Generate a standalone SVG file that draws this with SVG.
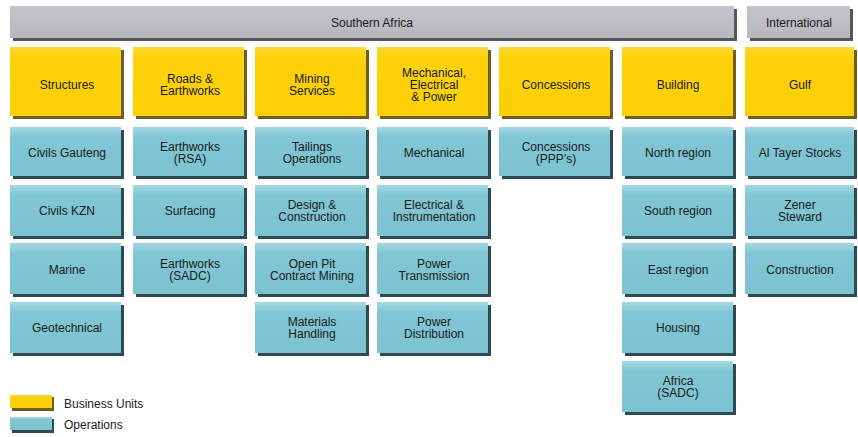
<svg xmlns="http://www.w3.org/2000/svg" width="858" height="437" viewBox="0 0 858 437">
<defs>
<linearGradient id="gy" x1="0" y1="0" x2="0" y2="1"><stop offset="0" stop-color="#fdd83a"/><stop offset="0.15" stop-color="#fdd20a"/><stop offset="1" stop-color="#fccf06"/></linearGradient>
<linearGradient id="gb" x1="0" y1="0" x2="0" y2="1"><stop offset="0" stop-color="#a4d8e2"/><stop offset="0.2" stop-color="#80c6d4"/><stop offset="1" stop-color="#7cc2d0"/></linearGradient>
<linearGradient id="gg" x1="0" y1="0" x2="0" y2="1"><stop offset="0" stop-color="#c4c4ca"/><stop offset="1" stop-color="#b6b6bc"/></linearGradient>
</defs>
<style>
.t{font-family:"Liberation Sans",Arial,sans-serif;font-size:12px;fill:#1a1a1a;text-anchor:middle}
.l{font-family:"Liberation Sans",Arial,sans-serif;font-size:12px;fill:#1a1a1a}
.ys{fill:#6e5e22}.y{fill:url(#gy)}
.bs{fill:#2e4b55}.b{fill:url(#gb)}
.gs{fill:#56565c}.g{fill:url(#gg)}
</style>
<rect width="858" height="437" fill="#ffffff"/>
<g id="southern-africa"><rect class="gs" x="13" y="9" width="724" height="32"/><rect class="g" x="10" y="6" width="724" height="32"/><text class="t" x="372" y="27">Southern Africa</text></g>
<g id="international"><rect class="gs" x="750" y="9" width="103" height="32"/><rect class="g" x="747" y="6" width="103" height="32"/><text class="t" x="799" y="27">International</text></g>

<g id="structures"><rect class="ys" x="13" y="50" width="111" height="69"/><rect class="y" x="10" y="47" width="111" height="69"/><text class="t" x="67" y="89">Structures</text></g>
<g id="roads"><rect class="ys" x="136" y="50" width="111" height="69"/><rect class="y" x="133" y="47" width="111" height="69"/><text class="t" x="190" y="83">Roads &amp;</text><text class="t" x="190" y="95">Earthworks</text></g>
<g id="mining"><rect class="ys" x="258" y="50" width="111" height="69"/><rect class="y" x="255" y="47" width="111" height="69"/><text class="t" x="312" y="83">Mining</text><text class="t" x="312" y="95">Services</text></g>
<g id="mep"><rect class="ys" x="380" y="50" width="111" height="69"/><rect class="y" x="377" y="47" width="111" height="69"/><text class="t" x="434" y="77">Mechanical,</text><text class="t" x="434" y="89">Electrical</text><text class="t" x="434" y="101">&amp; Power</text></g>
<g id="concessions"><rect class="ys" x="502" y="50" width="111" height="69"/><rect class="y" x="499" y="47" width="111" height="69"/><text class="t" x="556" y="89">Concessions</text></g>
<g id="building"><rect class="ys" x="625" y="50" width="111" height="69"/><rect class="y" x="622" y="47" width="111" height="69"/><text class="t" x="678" y="89">Building</text></g>
<g id="gulf"><rect class="ys" x="748" y="50" width="109" height="69"/><rect class="y" x="745" y="47" width="109" height="69"/><text class="t" x="800" y="89">Gulf</text></g>

<g id="civils-gauteng"><rect class="bs" x="13" y="130" width="111" height="49"/><rect class="b" x="10" y="127" width="111" height="49"/><text class="t" x="67" y="157">Civils Gauteng</text></g>
<g id="civils-kzn"><rect class="bs" x="13" y="188" width="111" height="51"/><rect class="b" x="10" y="185" width="111" height="51"/><text class="t" x="67" y="215">Civils KZN</text></g>
<g id="marine"><rect class="bs" x="13" y="246" width="111" height="51"/><rect class="b" x="10" y="243" width="111" height="51"/><text class="t" x="67" y="274">Marine</text></g>
<g id="geotechnical"><rect class="bs" x="13" y="305" width="111" height="51"/><rect class="b" x="10" y="302" width="111" height="51"/><text class="t" x="67" y="332">Geotechnical</text></g>

<g id="earthworks-rsa"><rect class="bs" x="136" y="130" width="111" height="49"/><rect class="b" x="133" y="127" width="111" height="49"/><text class="t" x="190" y="151">Earthworks</text><text class="t" x="190" y="163">(RSA)</text></g>
<g id="surfacing"><rect class="bs" x="136" y="188" width="111" height="51"/><rect class="b" x="133" y="185" width="111" height="51"/><text class="t" x="190" y="215">Surfacing</text></g>
<g id="earthworks-sadc"><rect class="bs" x="136" y="246" width="111" height="51"/><rect class="b" x="133" y="243" width="111" height="51"/><text class="t" x="190" y="268">Earthworks</text><text class="t" x="190" y="280">(SADC)</text></g>

<g id="tailings"><rect class="bs" x="258" y="130" width="111" height="49"/><rect class="b" x="255" y="127" width="111" height="49"/><text class="t" x="312" y="151">Tailings</text><text class="t" x="312" y="163">Operations</text></g>
<g id="design"><rect class="bs" x="258" y="188" width="111" height="51"/><rect class="b" x="255" y="185" width="111" height="51"/><text class="t" x="312" y="209">Design &amp;</text><text class="t" x="312" y="221">Construction</text></g>
<g id="open-pit"><rect class="bs" x="258" y="246" width="111" height="51"/><rect class="b" x="255" y="243" width="111" height="51"/><text class="t" x="312" y="268">Open Pit</text><text class="t" x="312" y="280">Contract Mining</text></g>
<g id="materials"><rect class="bs" x="258" y="305" width="111" height="51"/><rect class="b" x="255" y="302" width="111" height="51"/><text class="t" x="312" y="326">Materials</text><text class="t" x="312" y="338">Handling</text></g>

<g id="mechanical"><rect class="bs" x="380" y="130" width="111" height="49"/><rect class="b" x="377" y="127" width="111" height="49"/><text class="t" x="434" y="157">Mechanical</text></g>
<g id="electrical"><rect class="bs" x="380" y="188" width="111" height="51"/><rect class="b" x="377" y="185" width="111" height="51"/><text class="t" x="434" y="209">Electrical &amp;</text><text class="t" x="434" y="221">Instrumentation</text></g>
<g id="power-transmission"><rect class="bs" x="380" y="246" width="111" height="51"/><rect class="b" x="377" y="243" width="111" height="51"/><text class="t" x="434" y="268">Power</text><text class="t" x="434" y="280">Transmission</text></g>
<g id="power-distribution"><rect class="bs" x="380" y="305" width="111" height="51"/><rect class="b" x="377" y="302" width="111" height="51"/><text class="t" x="434" y="326">Power</text><text class="t" x="434" y="338">Distribution</text></g>

<g id="concessions-ppp"><rect class="bs" x="502" y="130" width="111" height="49"/><rect class="b" x="499" y="127" width="111" height="49"/><text class="t" x="556" y="151">Concessions</text><text class="t" x="556" y="163">(PPP’s)</text></g>

<g id="north"><rect class="bs" x="625" y="130" width="111" height="49"/><rect class="b" x="622" y="127" width="111" height="49"/><text class="t" x="678" y="157">North region</text></g>
<g id="south"><rect class="bs" x="625" y="188" width="111" height="51"/><rect class="b" x="622" y="185" width="111" height="51"/><text class="t" x="678" y="215">South region</text></g>
<g id="east"><rect class="bs" x="625" y="246" width="111" height="51"/><rect class="b" x="622" y="243" width="111" height="51"/><text class="t" x="678" y="274">East region</text></g>
<g id="housing"><rect class="bs" x="625" y="305" width="111" height="51"/><rect class="b" x="622" y="302" width="111" height="51"/><text class="t" x="678" y="332">Housing</text></g>
<g id="africa"><rect class="bs" x="625" y="364" width="111" height="51"/><rect class="b" x="622" y="361" width="111" height="51"/><text class="t" x="678" y="385">Africa</text><text class="t" x="678" y="397">(SADC)</text></g>

<g id="al-tayer"><rect class="bs" x="748" y="130" width="109" height="49"/><rect class="b" x="745" y="127" width="109" height="49"/><text class="t" x="800" y="157">Al Tayer Stocks</text></g>
<g id="zener"><rect class="bs" x="748" y="188" width="109" height="51"/><rect class="b" x="745" y="185" width="109" height="51"/><text class="t" x="800" y="209">Zener</text><text class="t" x="800" y="221">Steward</text></g>
<g id="construction"><rect class="bs" x="748" y="246" width="109" height="51"/><rect class="b" x="745" y="243" width="109" height="51"/><text class="t" x="800" y="274">Construction</text></g>

<g id="legend">
<rect class="ys" x="12" y="397" width="42" height="14"/><rect class="y" x="10" y="395" width="42" height="13"/>
<text class="l" x="64" y="408">Business Units</text>
<rect class="bs" x="12" y="419" width="42" height="14"/><rect class="b" x="10" y="417" width="42" height="13"/>
<text class="l" x="64" y="429">Operations</text>
</g>
<g id="connectors"/>
</svg>
